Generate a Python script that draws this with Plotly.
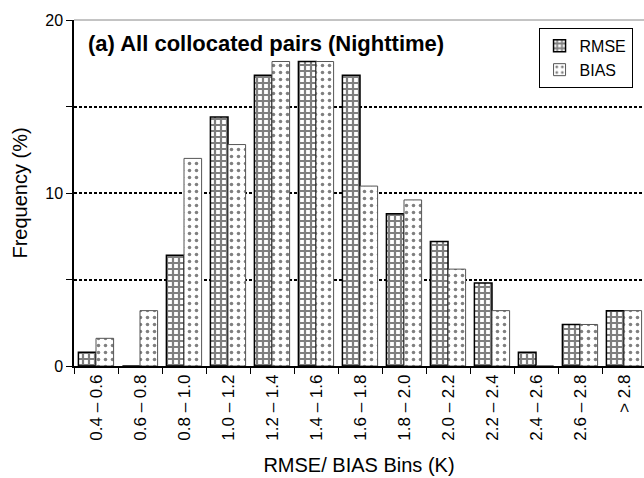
import plotly.graph_objects as go

categories = ["0.4 – 0.6", "0.6 – 0.8", "0.8 – 1.0", "1.0 – 1.2", "1.2 – 1.4",
              "1.4 – 1.6", "1.6 – 1.8", "1.8 – 2.0", "2.0 – 2.2", "2.2 – 2.4",
              "2.4 – 2.6", "2.6 – 2.8", "> 2.8"]
rmse = [0.8, 0.0, 6.4, 14.4, 16.8, 17.6, 16.8, 8.8, 7.2, 4.8, 0.8, 2.4, 3.2]
bias = [1.6, 3.2, 12.0, 12.8, 17.6, 17.6, 10.4, 9.6, 5.6, 3.2, 0.0, 2.4, 3.2]
y_tickvals = [0, 5, 10, 15, 20]
y_ticktext = ["0", "", "10", "", "20"]

FONT = "Liberation Sans, Arial, sans-serif"

fig = go.Figure()
fig.add_trace(go.Bar(
    x=categories, y=rmse, name="RMSE",
    marker=dict(color="white", line=dict(color="black", width=1.5),
                pattern=dict(shape="+", fgcolor="black", bgcolor="white",
                             size=6, solidity=0.6, fillmode="overlay")),
))
fig.add_trace(go.Bar(
    x=categories, y=bias, name="BIAS",
    marker=dict(color="white", line=dict(color="#555555", width=1),
                pattern=dict(shape=".", fgcolor="black", bgcolor="white",
                             size=7, solidity=0.2, fillmode="overlay")),
))

fig.update_layout(
    width=644, height=478,
    margin=dict(l=74, r=0, t=20, b=112),
    paper_bgcolor="white", plot_bgcolor="white",
    barmode="group", bargap=0.2, bargroupgap=0,
    font=dict(family=FONT, size=16, color="black"),
    legend=dict(x=0.815, y=0.977, xanchor="left", yanchor="top",
                bordercolor="black", borderwidth=1, bgcolor="white",
                font=dict(size=16, color="black"), tracegroupgap=0,
                itemwidth=30),
    showlegend=True,
)
fig.update_xaxes(
    type="category", range=[-0.5, 12.4545],
    showline=True, linecolor="black", linewidth=1.5,
    ticks="outside", tickson="boundaries", ticklen=6, tickcolor="black",
    tickangle=-90, tickfont=dict(size=17),
    title=dict(text="RMSE/ BIAS Bins (K)", font=dict(size=20), standoff=18),
    showgrid=False,
)
fig.update_yaxes(
    range=[0, 20], tickvals=y_tickvals, ticktext=y_ticktext,
    showline=True, linecolor="black", linewidth=1.5,
    ticks="outside", ticklen=6, tickcolor="black", tickfont=dict(size=16),
    showgrid=True, gridcolor="black", gridwidth=2, griddash="3px,2px",
    zeroline=False,
    title=dict(text="Frequency (%)", font=dict(size=20), standoff=12),
)
fig.add_annotation(
    x=0.021, y=0.9335, xref="paper", yref="paper", xanchor="left", yanchor="middle",
    text="<b>(a) All collocated pairs (Nighttime)</b>", showarrow=False,
    font=dict(size=22, color="black"),
)
fig.add_shape(type="line", xref="paper", yref="paper", x0=0, x1=1, y0=1, y1=1,
              line=dict(color="#888888", width=1))

fig.write_html("out.html")
